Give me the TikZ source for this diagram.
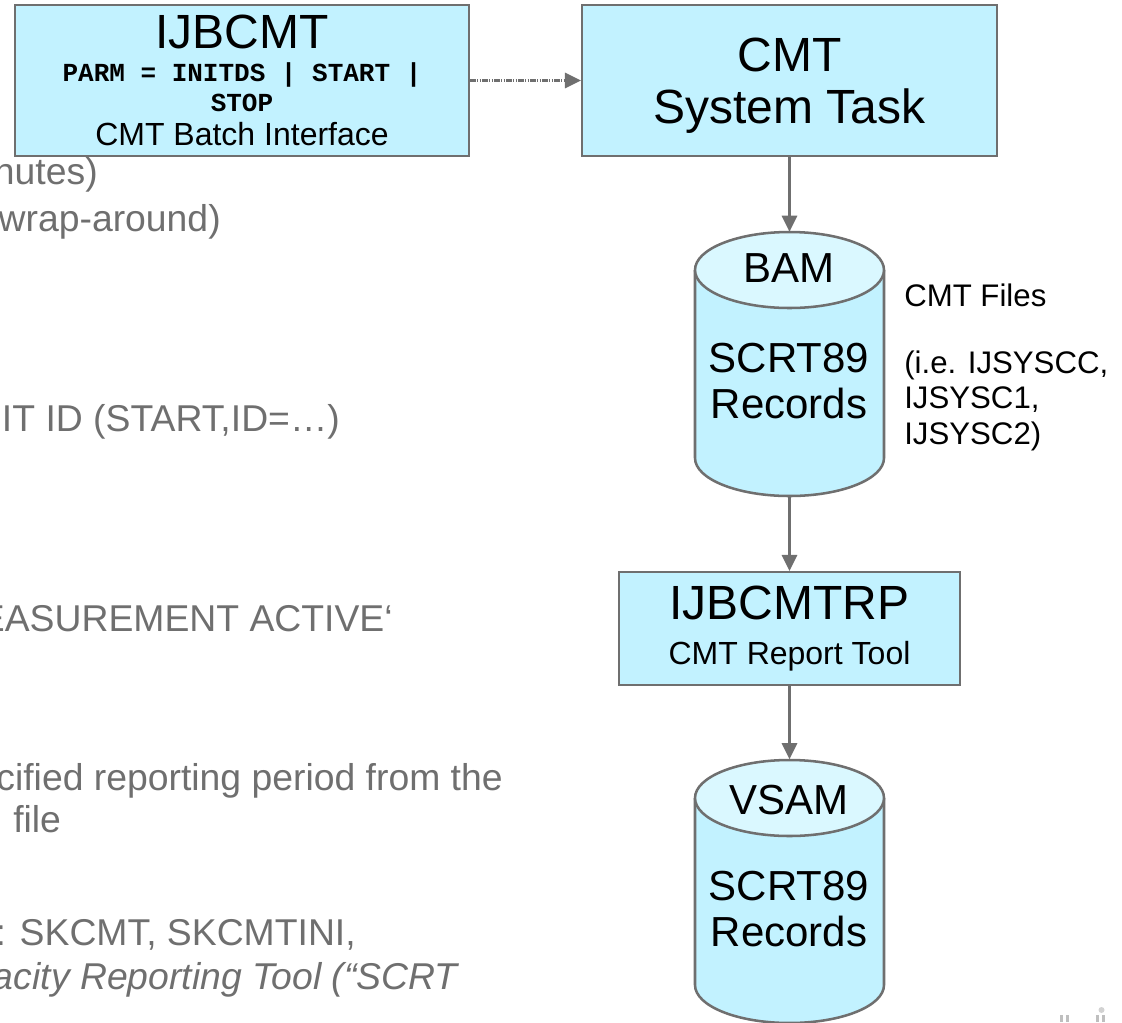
\documentclass[tikz,border=0pt]{standalone}
\usepackage{fontspec}
\setmainfont{Liberation Sans}
\setmonofont{Liberation Mono}
\usetikzlibrary{arrows.meta}
\definecolor{boxfill}{HTML}{C2F2FF}
\definecolor{topfill}{HTML}{DAF8FF}
\definecolor{linegray}{HTML}{6F6F6F}
\newcommand{\fsize}[1]{\fontsize{#1}{#1}\selectfont}

\begin{document}
\begin{tikzpicture}[x=0.75pt, y=-0.75pt,
         task box/.style =
         {
             draw=linegray, line width=1.9pt, fill=boxfill, rectangle, align=center, inner sep=0pt
         },
         disk line/.style = {draw=linegray, line width=1.9pt},
         disk text/.style = {align=center, inner sep=0pt, font=\fsize{31.5}},
         note/.style = {align=left, inner sep=0pt, anchor=base west, font=\fsize{23.4}},
         behind/.style = {text=linegray, inner sep=0pt, font=\fsize{28}},
         flow/.style = {draw=linegray, line width=1.7pt, -{Triangle[length=12pt,width=11.5pt]}}]
      \useasboundingbox (0,0) rectangle (1122,1022);

      \node[behind, anchor=base east] (minutes) at (98,184) {nutes)};
      \node[behind, anchor=base east] (wrap) at (221,231) {wrap-around)};
      \node[behind, anchor=base east] (unit) at (340,431) {IT ID (START,ID=…)};
      \node[behind, anchor=base east] (active) at (393,631) {EASUREMENT ACTIVE‘};
      \node[behind, anchor=base east] (period) at (503,790) {cified reporting period from the};
      \node[behind, anchor=base west] (file) at (13,832) {file};
      \node[behind, anchor=base east] (members) at (356,945) {: SKCMT, SKCMTINI,};
      \node[behind, anchor=base east, font=\fsize{28}\itshape] (tool) at (458,989) {acity Reporting Tool (“SCRT};

      \node[task box, minimum width=340.5pt, minimum height=113pt] (batch) at (242,80.5)
         {{\fsize{36}IJBCMT}\\[9.5pt]
          {\fsize{19.5}\ttfamily\bfseries PARM = INITDS | START |}\\[3.75pt]
          {\fsize{19.5}\ttfamily\bfseries STOP}\\[7.5pt]
          {\fsize{24}CMT Batch Interface}};
      \node[task box, minimum width=311pt, minimum height=113pt] (task) at (789.5,80.5)
         {\rule{0pt}{33pt}{\fsize{36}CMT}\\[12pt]{\fsize{36}System Task}};

      \foreach \diskname/\disktop/\disklow in {bam/232/496, vsam/760/1023}
      {
         \node[minimum width=142pt, minimum height=198pt, inner sep=0pt] (\diskname) at (789.5,{(\disktop+\disklow)/2}) {};
         \path[disk line, fill=boxfill] (695,\disktop+38) -- (695,\disklow-38) arc[start angle=180, end angle=0, x radius=94.5, y radius=38] -- (884,\disktop+38);
         \path[disk line, fill=topfill] (789.5,\disktop+38) ellipse[x radius=94.5, y radius=38];
      }
      \node[disk text] (bamname) at (789,268) {BAM};
      \node[disk text] (bamrec) at (789,381) {SCRT89\\[3pt]Records};
      \node[note] (files) at (904,306) {CMT Files};
      \node[note] (fileids) at (904,444) {(i.e. IJSYSCC,\\[3pt]IJSYSC1,\\[3pt]IJSYSC2)};

      \node[task box, minimum width=255.5pt, minimum height=84.5pt] (report) at (789.5,628.5)
         {{\fsize{36}IJBCMTRP}\\[15pt]{\fsize{24}CMT Report Tool}};

      \node[disk text] (vsamname) at (789,800) {VSAM};
      \node[disk text] (vsamrec) at (789,909) {SCRT89\\[3pt]Records};

      \draw[flow, dash pattern=on 4pt off 1pt on 1pt off 1pt on 1pt off 1pt] (batch.east) -- (task.west);
      \draw[flow] (task.south) -- (bam.north);
      \draw[flow] (bam.south) -- (report.north);
      \draw[flow] (report.south) -- (vsam.north);

      \fill[gray!50] (1060,1015) rectangle (1063,1022);
      \fill[gray!50] (1066,1015) rectangle (1069,1022);
      \fill[gray!50] (1096,1015) rectangle (1099,1022);
      \fill[gray!50] (1102,1015) rectangle (1105,1022);
      \fill[gray!35] (1101.5,1010) circle (3);
    \end{tikzpicture}
\end{document}
